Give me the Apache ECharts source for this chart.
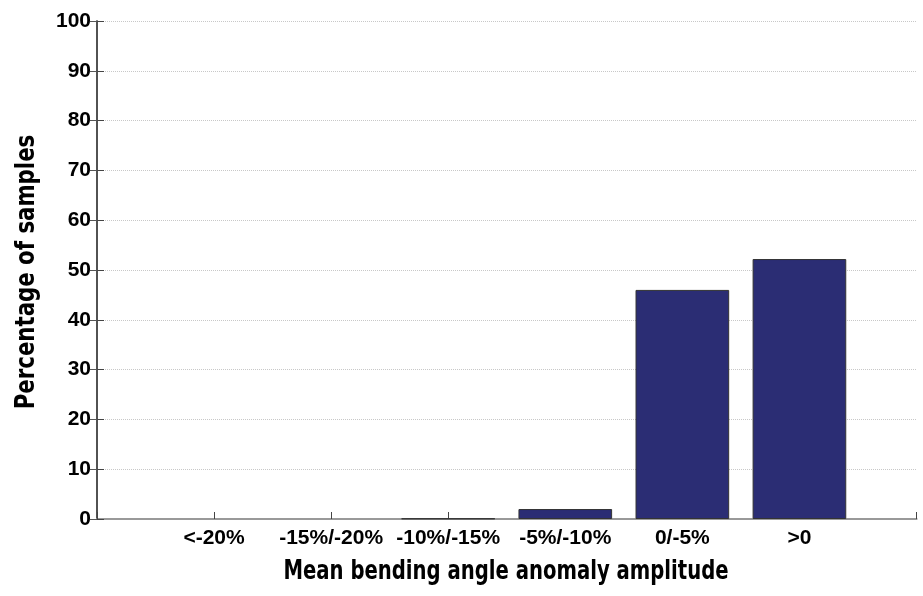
<!DOCTYPE html>
<html><head><meta charset="utf-8">
<script src="https://cdn.jsdelivr.net/npm/echarts@6/dist/echarts.min.js"></script>
<style>html,body{margin:0;padding:0;background:#fff}#c{width:923px;height:596px}</style>
</head><body><div id="c"></div>
<script>
const categories = ['<-20%', '-15%/-20%', '-10%/-15%', '-5%/-10%', '0/-5%', '>0'];
const percentages = [0, 0, 0.1, 2.0, 46.0, 52.2];
const yTicks = [0, 10, 20, 30, 40, 50, 60, 70, 80, 90, 100];
const xTitle = 'Mean bending angle anomaly amplitude';
const yTitle = 'Percentage of samples';

const chart = echarts.init(document.getElementById('c'));
const gridLeft = 97, gridRight = 6.5;
const slot = (923 - gridLeft - gridRight) / (categories.length + 1);
const lbl = {fontFamily: 'Liberation Sans, Arial, sans-serif', fontWeight: 'bold', fontSize: 21, color: '#000'};
const titleFont = 'bold 26px "DejaVu Sans Condensed", "DejaVu Sans", sans-serif';
chart.setOption({
  animation: false,
  grid: {left: gridLeft, right: gridRight, top: 21, bottom: 77, containLabel: false, outerBoundsMode: 'none'},
  xAxis: [{
    type: 'value', min: 0, max: categories.length + 1, interval: 1,
    axisLine: {lineStyle: {color: '#555', width: 1.5}},
    axisTick: {inside: true, length: 7, lineStyle: {color: '#444'}},
    splitLine: {show: false},
    axisLabel: Object.assign({margin: 9, formatter: v => (v >= 1 && v <= categories.length) ? categories[v - 1] : ''}, lbl)
  }, {
    type: 'value', position: 'top', min: 0, max: categories.length + 1,
    axisLine: {show: true, lineStyle: {color: '#999', width: 2}},
    axisTick: {show: false}, axisLabel: {show: false}, splitLine: {show: false}
  }],
  yAxis: [{
    type: 'value', min: 0, max: 100, interval: 10,
    axisLine: {show: true, lineStyle: {color: '#555', width: 1.5}},
    axisTick: {inside: true, length: 7, lineStyle: {color: '#444'}},
    splitLine: {show: true, lineStyle: {type: 'dotted', color: '#c8c8c8'}},
    axisLabel: Object.assign({margin: 6, formatter: v => yTicks.includes(v) ? String(v) : ''}, lbl)
  }, {
    type: 'value', position: 'right', min: 0, max: 100, interval: 10,
    axisLine: {show: true, lineStyle: {color: '#444', width: 1.5}},
    axisTick: {inside: true, length: 7, lineStyle: {color: '#555'}},
    axisLabel: {show: false}, splitLine: {show: false}
  }],
  graphic: [{
    type: 'text', x: 506, y: 572, scaleX: 0.84,
    style: {text: xTitle, font: titleFont, fill: '#000', align: 'center', verticalAlign: 'middle'}
  }, {
    type: 'text', x: 27, y: 272, rotation: Math.PI / 2, scaleX: 0.91,
    style: {text: yTitle, font: titleFont, fill: '#000', align: 'center', verticalAlign: 'middle'}
  }],
  series: [{
    type: 'bar', xAxisIndex: 0, yAxisIndex: 0,
    barWidth: slot * 0.8,
    itemStyle: {color: '#2b2d74', borderColor: '#333', borderWidth: 1},
    data: percentages.map((v, i) => ({value: [i + 1, v], itemStyle: v === 0 ? {borderWidth: 0} : {}}))
  }]
});
</script></body></html>
